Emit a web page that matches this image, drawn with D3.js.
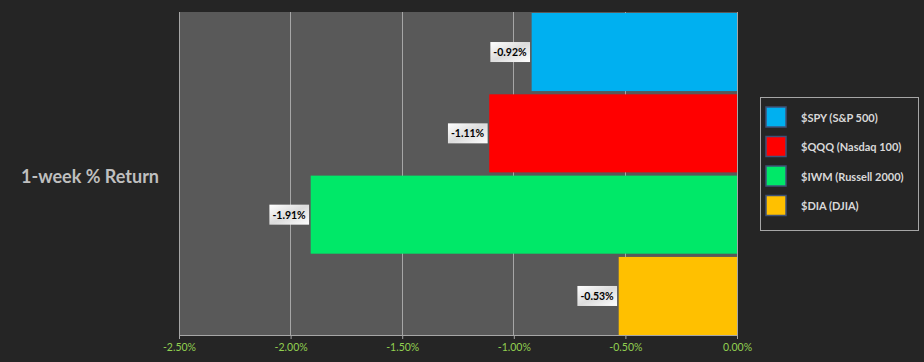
<!DOCTYPE html>
<html><head><meta charset="utf-8">
<script src="https://cdn.jsdelivr.net/npm/d3@7"></script>
<style>
html,body{margin:0;padding:0;background:#252525;}
svg{display:block;font-family:Lato,"Open Sans",sans-serif;}
</style></head>
<body>
<svg id="chart" width="924" height="362"></svg>
<script>
const seriesNames = ["$SPY (S&P 500)", "$QQQ (Nasdaq 100)", "$IWM (Russell 2000)", "$DIA (DJIA)"];
const seriesValues = [-0.92, -1.11, -1.91, -0.53];
const seriesColors = ["#00b0f0", "#ff0000", "#00e868", "#ffc000"];
const category = "1-week % Return";
const tickValues = [-2.5, -2.0, -1.5, -1.0, -0.5, 0.0];

const fmt = d => d3.format(".2f")(d).replace("\u2212","-") + "%";

const svg = d3.select("#chart");
const plot = {left:179, right:737, top:12, bottom:335};

svg.append("rect").attr("x",0).attr("y",0).attr("width",924).attr("height",362).attr("fill","#252525");
svg.append("rect").attr("x",plot.left).attr("y",plot.top)
  .attr("width",plot.right-plot.left).attr("height",plot.bottom-plot.top).attr("fill","#595959");

const x = d3.scaleLinear().domain([-2.5, 0]).range([plot.left, plot.right]);
const y = d3.scaleBand().domain(seriesNames).range([plot.top+1, plot.bottom]).paddingInner(0.04).paddingOuter(0.0);

// gridlines
svg.append("g").selectAll("line").data(tickValues).join("line")
  .attr("x1",d=>x(d)).attr("x2",d=>x(d)).attr("y1",plot.top).attr("y2",plot.bottom)
  .attr("stroke","#a6a6a6").attr("stroke-width",1).attr("shape-rendering","crispEdges");

// bars
svg.append("g").selectAll("rect").data(seriesNames).join("rect")
  .attr("x",(d,i)=>x(seriesValues[i])).attr("width",(d,i)=>x(0)-x(seriesValues[i]))
  .attr("y",d=>y(d)).attr("height",y.bandwidth())
  .attr("fill",(d,i)=>seriesColors[i]);

// axis
const axis = d3.axisBottom(x).tickValues(tickValues).tickFormat(fmt).tickSize(4).tickSizeOuter(0);
const ag = svg.append("g").attr("transform",`translate(0,${plot.bottom})`).call(axis);
ag.select(".domain").attr("stroke","#a6a6a6");
ag.selectAll(".tick line").attr("stroke","#a6a6a6");
ag.selectAll(".tick text").attr("fill","#92d050").attr("font-size","10.5px").attr("dy","0.9em")
  .attr("font-family","Lato,'Open Sans',sans-serif");

// gradient for labels
const defs = svg.append("defs");
const grad = defs.append("linearGradient").attr("id","lblgrad").attr("x1","0").attr("y1","0").attr("x2","1").attr("y2","1");
grad.append("stop").attr("offset","0%").attr("stop-color","#ffffff");
grad.append("stop").attr("offset","50%").attr("stop-color","#dcdcdc");
grad.append("stop").attr("offset","100%").attr("stop-color","#ffffff");

// data labels
const lg = svg.append("g");
seriesNames.forEach((n,i)=>{
  const v = seriesValues[i];
  const txt = fmt(v);
  const cy = y(n)+y.bandwidth()/2;
  const right = x(v)-2;
  const g = lg.append("g");
  const t = g.append("text").attr("x",right-3).attr("y",cy).attr("text-anchor","end")
    .attr("dominant-baseline","central").attr("font-size","10.5px").attr("font-weight","bold")
    .attr("fill","#000").text(txt);
  const bb = t.node().getBBox();
  g.insert("rect","text").attr("x",bb.x-3).attr("y",cy-10).attr("width",bb.width+6).attr("height",20)
    .attr("fill","url(#lblgrad)");
});

// category label
svg.append("text").attr("x",90).attr("y",176).attr("text-anchor","middle")
  .attr("dominant-baseline","central").attr("font-size","18px").attr("font-weight","bold")
  .attr("fill","#bfbfbf").text(category);

// legend
const leg = svg.append("g");
leg.append("rect").attr("x",760.5).attr("y",97.5).attr("width",158).attr("height",133)
  .attr("fill","none").attr("stroke","#a6a6a6").attr("stroke-width",1);
seriesNames.forEach((n,i)=>{
  const cy = 117 + i*29.5;
  leg.append("rect").attr("x",766).attr("y",cy-10).attr("width",20).attr("height",20)
    .attr("fill",seriesColors[i]).attr("stroke","#3f5277").attr("stroke-width",1.5);
  leg.append("text").attr("x",801).attr("y",cy).attr("dominant-baseline","central")
    .attr("font-size","11px").attr("font-weight","bold").attr("fill","#d9d9d9").text(n);
});
</script>
</body></html>
